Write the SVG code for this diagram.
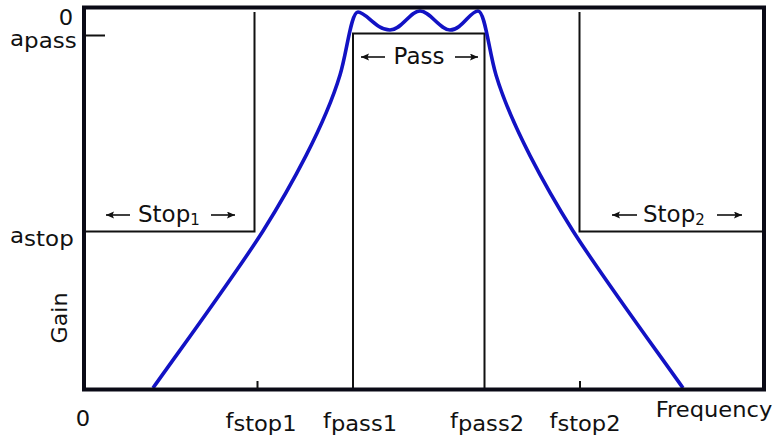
<svg xmlns="http://www.w3.org/2000/svg" width="778" height="441" viewBox="0 0 778 441">
<style>
text{font-family:"DejaVu Sans","Verdana",sans-serif;fill:#111}
.ax{font-size:21.5px}
.rg{font-size:23px}
.thin{fill:none;stroke:#111;stroke-width:2}
.arr{stroke:#111;stroke-width:1.6;marker-end:url(#ah)}
</style>
<defs>
<marker id="ah" markerUnits="userSpaceOnUse" markerWidth="9" markerHeight="8" refX="8" refY="3.5" orient="auto">
<path d="M0,0 L8,3.5 L0,7 L1.5,3.5 z" fill="#111"/>
</marker>
</defs>
<rect width="778" height="441" fill="#fff"/>
<g id="regions">
<g id="stop1-region">
<path class="thin" d="M254.5,12 V231.5 H84"/>
<line class="arr" x1="130" y1="215" x2="106" y2="215"/>
<text class="rg" x="138" y="222">Stop<tspan font-size="15" dy="3">1</tspan></text>
<line class="arr" x1="211" y1="215" x2="235" y2="215"/>
</g>
<g id="pass-region">
<path class="thin" d="M353,389 V33.5 H484.5 V389"/>
<line class="arr" x1="385" y1="57" x2="361" y2="57"/>
<text class="rg" x="419" y="64" text-anchor="middle">Pass</text>
<line class="arr" x1="455" y1="57" x2="478" y2="57"/>
</g>
<g id="stop2-region">
<path class="thin" d="M579.5,12 V231.5 H764"/>
<line class="arr" x1="637" y1="215" x2="612" y2="215"/>
<text class="rg" x="643" y="222">Stop<tspan font-size="15" dy="3">2</tspan></text>
<line class="arr" x1="717" y1="215" x2="742" y2="215"/>
</g>
</g>
<g id="curve">
<path d="M153,388 C185,343 235,275 263,231 C290,188 325,125 340,75 C347,52 351,12 358,12 C366,12 376,30 390,30 C402,30 410,11 420,11 C430,11 440,30 450,30 C462,30 470,11 478,11 C485,11 489,52 496,75 C511,125 546,188 573,231 C601,275 651,343 683,388" fill="none" stroke="#1212c4" stroke-width="3.6" stroke-linejoin="round"/>
</g>
<g id="axes">
<rect x="84" y="7.5" width="680" height="382" fill="none" stroke="#0a0a16" stroke-width="4"/>
<line class="thin" x1="86" y1="35.5" x2="105" y2="35.5"/>
<line class="thin" x1="257.5" y1="381" x2="257.5" y2="389"/>
<line class="thin" x1="580" y1="381" x2="580" y2="389"/>
</g>
<g id="labels">
<text class="ax" transform="translate(73,25) scale(1.05,1)" text-anchor="end">0</text>
<text class="ax" transform="translate(10,45.5) scale(1.07,1)">a<tspan dy="2.5">pass</tspan></text>
<text class="ax" transform="translate(10,243) scale(1.07,1)">a<tspan dy="2.5">stop</tspan></text>
<text class="ax" transform="translate(67,318) rotate(-90) scale(1.03,1)" text-anchor="middle">Gain</text>
<text class="ax" transform="translate(83,426) scale(1.05,1)" text-anchor="middle">0</text>
<text class="ax" transform="translate(261,428) scale(1.05,1)" text-anchor="middle">f<tspan dy="3">stop1</tspan></text>
<text class="ax" transform="translate(360,428) scale(1.05,1)" text-anchor="middle">f<tspan dy="3">pass1</tspan></text>
<text class="ax" transform="translate(487,428) scale(1.05,1)" text-anchor="middle">f<tspan dy="3">pass2</tspan></text>
<text class="ax" transform="translate(585,428) scale(1.05,1)" text-anchor="middle">f<tspan dy="3">stop2</tspan></text>
<text class="ax" transform="translate(714,417) scale(1.05,1)" text-anchor="middle">Frequency</text>
</g>
</svg>
